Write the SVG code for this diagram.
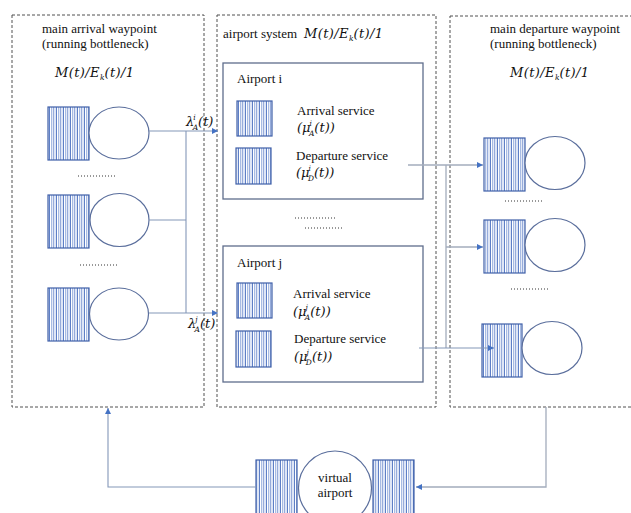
<svg xmlns="http://www.w3.org/2000/svg" width="631" height="513" viewBox="0 0 631 513">
<style>
.dash{fill:none;stroke:#505050;stroke-width:1;stroke-dasharray:3 2}
.q{fill:url(#stripes);stroke:#3F5FA8;stroke-width:1.2}
.c{fill:#fff;stroke:#5A6E9C;stroke-width:1.2}
.box{fill:#fff;stroke:#5F6D8C;stroke-width:1.3}
.t{font-family:"Liberation Serif","DejaVu Serif",serif;font-size:13px;fill:#111}
.m{font-family:"DejaVu Serif","Liberation Serif",serif;font-style:italic;font-size:13px;fill:#111}
.mm{font-family:"DejaVu Serif","Liberation Serif",serif;font-style:italic;font-size:13px;fill:#111;letter-spacing:0.4px}
.s{font-size:7.5px;letter-spacing:0}
.dots{fill:none;stroke:#333;stroke-width:1;stroke-dasharray:1 2}
.ln{fill:none;stroke:#8497B8;stroke-width:1.1}
.lg{fill:none;stroke:#A3ACBC;stroke-width:1.3}
</style>
<defs>
<pattern id="stripes" patternUnits="userSpaceOnUse" width="7" height="10">
<rect width="7" height="10" fill="#fff"/>
<line x1="0.5" y1="0" x2="0.5" y2="10" stroke="#4C70C0" stroke-width="0.9"/>
<line x1="2.5" y1="0" x2="2.5" y2="10" stroke="#9DB3E0" stroke-width="0.9"/>
<line x1="4.3" y1="0" x2="4.3" y2="10" stroke="#5A7CC6" stroke-width="0.8"/>
<line x1="6" y1="0" x2="6" y2="10" stroke="#B6C6EA" stroke-width="0.9"/>
</pattern>
<marker id="ar" viewBox="0 0 10 10" refX="10" refY="5" markerWidth="6" markerHeight="6" orient="auto" markerUnits="userSpaceOnUse">
<path d="M0,0 L10,5 L0,10 z" fill="#4472C4"/>
</marker>
</defs>
<rect width="631" height="513" fill="#fff"/>

<g id="arrival-waypoint">
<rect class="dash" x="12" y="15" width="192" height="392"/>
<text class="t" x="42" y="33">main arrival waypoint</text>
<text class="t" x="42" y="48">(running bottleneck)</text>
<text class="mm" x="55" y="77">M(t)/E<tspan class="s" dy="3">k</tspan><tspan dy="-3">(t)/1</tspan></text>
<rect class="q" x="48" y="107" width="41" height="53"/>
<ellipse class="c" cx="119" cy="133" rx="30" ry="26"/>
<line class="dots" x1="78" y1="176" x2="117" y2="176"/>
<rect class="q" x="48" y="195" width="41" height="53"/>
<ellipse class="c" cx="119.5" cy="220" rx="29.5" ry="26.5"/>
<line class="dots" x1="80" y1="265" x2="119" y2="265"/>
<rect class="q" x="48" y="288" width="41" height="53"/>
<ellipse class="c" cx="119" cy="314" rx="29.5" ry="26"/>
</g>

<g id="airport-system">
<rect class="dash" x="217" y="15" width="219" height="392"/>
<text class="t" x="223" y="38">airport system</text>
<text class="mm" x="304" y="38">M(t)/E<tspan class="s" dy="3">k</tspan><tspan dy="-3">(t)/1</tspan></text>
<line class="dots" x1="295" y1="218" x2="335" y2="218"/>
<line class="dots" x1="305" y1="228" x2="344" y2="228"/>
</g>

<g id="airport-i">
<rect class="box" x="223" y="63" width="200" height="136"/>
<text class="t" x="237" y="83">Airport i</text>
<rect class="q" x="237" y="101" width="35" height="35"/>
<text class="t" x="297" y="115">Arrival service</text>
<text class="m" x="297" y="132">(μ<tspan class="s" dx="-1" dy="-6">i</tspan><tspan class="s" dx="-3" dy="10">A</tspan><tspan dy="-4">(t))</tspan></text>
<rect class="q" x="236" y="148" width="35" height="36"/>
<text class="t" x="296" y="160">Departure service</text>
<text class="m" x="296" y="177">(μ<tspan class="s" dx="-1" dy="-6">i</tspan><tspan class="s" dx="-3" dy="10">D</tspan><tspan dy="-4">(t))</tspan></text>
</g>

<g id="airport-j">
<rect class="box" x="223" y="246" width="200" height="136"/>
<text class="t" x="237" y="267">Airport j</text>
<rect class="q" x="237" y="283" width="35" height="35"/>
<text class="t" x="293" y="298">Arrival service</text>
<text class="m" x="293" y="316">(μ<tspan class="s" dx="-1" dy="-6">j</tspan><tspan class="s" dx="-3" dy="10">A</tspan><tspan dy="-4">(t))</tspan></text>
<rect class="q" x="236" y="331" width="35" height="36"/>
<text class="t" x="294" y="343">Departure service</text>
<text class="m" x="294" y="361">(μ<tspan class="s" dx="-1" dy="-6">j</tspan><tspan class="s" dx="-3" dy="10">D</tspan><tspan dy="-4">(t))</tspan></text>
</g>

<g id="departure-waypoint">
<rect class="dash" x="450" y="16" width="190" height="391"/>
<text class="t" x="490" y="33">main departure waypoint</text>
<text class="t" x="490" y="48">(running bottleneck)</text>
<text class="mm" x="510" y="77">M(t)/E<tspan class="s" dy="3">k</tspan><tspan dy="-3">(t)/1</tspan></text>
<rect class="q" x="484" y="138" width="41" height="53"/>
<ellipse class="c" cx="555" cy="163" rx="30" ry="26.5"/>
<line class="dots" x1="505" y1="201" x2="544" y2="201"/>
<rect class="q" x="484" y="220" width="41" height="53"/>
<ellipse class="c" cx="555" cy="245" rx="30" ry="26.5"/>
<line class="dots" x1="511" y1="289" x2="550" y2="289"/>
<rect class="q" x="482" y="324" width="40" height="53"/>
<ellipse class="c" cx="552" cy="348" rx="30" ry="26.5"/>
</g>

<g id="virtual-airport">
<rect class="q" x="256" y="460" width="41" height="60"/>
<ellipse class="c" cx="335" cy="488" rx="36.5" ry="37"/>
<rect class="q" x="373" y="460" width="41" height="60"/>
<text class="t" x="335" y="482" text-anchor="middle">virtual</text>
<text class="t" x="335" y="497" text-anchor="middle">airport</text>
</g>

<g id="connectors">
<polyline class="ln" points="149,131 218,131" marker-end="url(#ar)"/>
<polyline class="ln" points="149,220 186,220"/>
<polyline class="ln" points="186,131 186,313"/>
<polyline class="ln" points="149,313 218,313" marker-end="url(#ar)"/>
<polyline class="lg" points="408,165 483,165" marker-end="url(#ar)"/>
<polyline class="lg" points="446,165 446,348"/>
<polyline class="lg" points="446,247 483,247" marker-end="url(#ar)"/>
<polyline class="ln" points="419,348 494,348" marker-end="url(#ar)"/>
<polyline class="lg" points="546,407 546,487 416,487" marker-end="url(#ar)"/>
<polyline class="ln" points="256,487 108,487 108,408" marker-end="url(#ar)"/>
</g>

<g id="labels">
<text class="m" x="186" y="126">λ<tspan class="s" dx="-1" dy="-6">i</tspan><tspan class="s" dx="-3" dy="10">A</tspan><tspan dy="-4">(t)</tspan></text>
<text class="m" x="188" y="328">λ<tspan class="s" dx="-1" dy="-6">j</tspan><tspan class="s" dx="-3" dy="10">A</tspan><tspan dy="-4">(t)</tspan></text>
</g>
</svg>
